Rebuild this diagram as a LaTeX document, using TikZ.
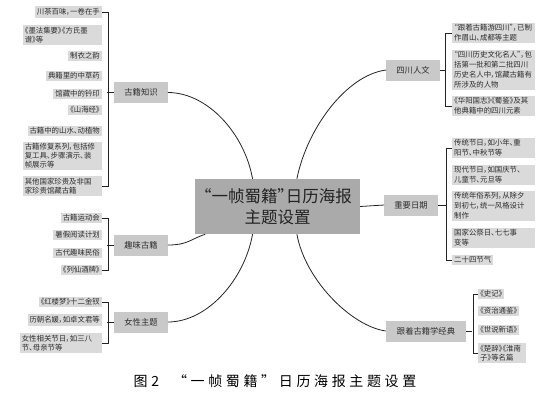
\documentclass[tikz,border=0pt]{standalone}
\usepackage{fontspec}
\setmainfont[RawFeature=+palt]{Noto Sans CJK SC}
\newfontfamily\capfont[LetterSpace=26]{Noto Sans CJK SC}
\usepackage{tikz}
\usetikzlibrary{positioning}
\definecolor{mydark}{RGB}{35,35,35}
\definecolor{myink}{RGB}{45,45,45}
\definecolor{leafgray}{RGB}{218,218,218}
\definecolor{hubgray}{RGB}{201,201,201}
\definecolor{maingray}{RGB}{170,170,170}
\tikzset{
  leaf/.style={rectangle, fill=leafgray, text=myink, inner sep=2pt,
    font=\fontsize{7.4}{9}\selectfont},
  wideleaf/.style={leaf, text width=75pt, align=left},
  rleaf/.style={leaf, text width=79pt, align=left,
    font=\fontsize{7.4}{10}\selectfont},
  hub/.style={rectangle, fill=hubgray, text=myink, inner xsep=10pt,
    minimum height=21pt, font=\fontsize{8.3}{10}\selectfont},
  mainbox/.style={rectangle, fill=maingray, text=mydark, align=center,
    minimum width=165pt, minimum height=55pt,
    font=\fontsize{16.5}{20.5}\selectfont},
  line/.style={line width=0.8pt, color=mydark},
  captext/.style={font=\capfont\fontsize{14}{16}\selectfont, text=black}
}

\begin{document}
\begin{tikzpicture}[x=1pt, y=-1pt]
  \useasboundingbox (0,0) rectangle (540,400);
  \node[mainbox] (main) at (277.5,206.5) {“一帧蜀籍”日历海报\\主题设置};

  % left: 古籍知识
  \node[hub] (gjzs) at (141,92.5) {古籍知识};
  \node[leaf, anchor=east] (zs1) at (102,12) {川茶百味，一卷在手};
  \node[wideleaf, anchor=east] (zs2) at (102,35) {《墨法集要》《方氏墨\\谱》等};
  \node[leaf, anchor=east] (zs3) at (102,56) {制衣之韵};
  \node[leaf, anchor=east] (zs4) at (102,76) {典籍里的中草药};
  \node[leaf, anchor=east] (zs5) at (102,94) {馆藏中的钤印};
  \node[leaf, anchor=east] (zs6) at (102,110) {《山海经》};
  \node[leaf, anchor=east] (zs7) at (102,131) {古籍中的山水、动植物};
  \node[wideleaf, anchor=east] (zs8) at (102,156) {古籍修复系列，包括修\\复工具、步骤演示、装\\帧展示等};
  \node[wideleaf, anchor=east] (zs9) at (102,186) {其他国家珍贵及非国\\家珍贵馆藏古籍};
  \draw[line] (zs1.east) -- ++(6,0) |- (zs9.east);
  \draw[line] (gjzs.west) -- ++(-7,0);

  % left: 趣味古籍
  \node[hub] (qwgj) at (141,245) {趣味古籍};
  \node[leaf, anchor=east] (qw1) at (102,218) {古籍运动会};
  \node[leaf, anchor=east] (qw2) at (102,235) {暑假阅读计划};
  \node[leaf, anchor=east] (qw3) at (102,253) {古代趣味民俗};
  \node[leaf, anchor=east] (qw4) at (102,270) {《列仙酒牌》};
  \draw[line] (qw1.east) -- ++(6,0) |- (qw4.east);
  \draw[line] (qwgj.west) -- ++(-7,0);

  % left: 女性主题
  \node[hub] (nxzt) at (141,322) {女性主题};
  \node[leaf, anchor=east] (nx1) at (102,302) {《红楼梦》十二金钗};
  \node[leaf, anchor=east] (nx2) at (102,320) {历朝名媛，如卓文君等};
  \node[wideleaf, text width=78pt, anchor=east] (nx3) at (102,343) {女性相关节日，如三八\\节、母亲节等};
  \draw[line] (nx1.east) -- ++(6,0) |- (nx3.east);
  \draw[line] (nxzt.west) -- ++(-7,0);

  % right: 四川人文
  \node[hub] (scrw) at (413,70) {四川人文};
  \node[rleaf, anchor=west] (sc1) at (452,33) {“跟着古籍游四川”，已制\\作眉山、成都等主题};
  \node[rleaf, anchor=west] (sc2) at (452,70) {“四川历史文化名人”，包\\括第一批和第二批四川\\历史名人中，馆藏古籍有\\所涉及的人物};
  \node[rleaf, anchor=west] (sc3) at (452,106) {《华阳国志》《蜀鉴》及其\\他典籍中的四川元素};
  \draw[line] (sc1.west) -- ++(-7,0) |- (sc3.west);
  \draw[line] (scrw.east) -- ++(5,0);

  % right: 重要日期
  \node[hub] (zyrq) at (411,205) {重要日期};
  \node[rleaf, anchor=west] (zy1) at (452,148) {传统节日，如小年、重\\阳节、中秋节等};
  \node[rleaf, anchor=west] (zy2) at (452,175) {现代节日，如国庆节、\\儿童节、元旦等};
  \node[rleaf, anchor=west] (zy3) at (452,206) {传统年俗系列，从除夕\\到初七，统一风格设计\\制作};
  \node[rleaf, anchor=west] (zy4) at (452,238) {国家公祭日、七七事\\变等};
  \node[leaf, anchor=west] (zy5) at (452,260) {二十四节气};
  \draw[line] (zy1.west) -- ++(-6,0) |- (zy5.west);
  \draw[line] (zyrq.east) -- ++(8,0);

  % right: 跟着古籍学经典
  \node[hub, inner xsep=11pt] (gjxj) at (426,331) {跟着古籍学经典};
  \node[leaf, anchor=west] (gj1) at (478,294) {《史记》};
  \node[leaf, anchor=west] (gj2) at (478,311) {《资治通鉴》};
  \node[leaf, anchor=west] (gj3) at (478,330) {《世说新语》};
  \node[wideleaf, text width=44pt, anchor=west] (gj4) at (478,353) {《楚辞》《淮南\\子》等名篇};
  \draw[line] (gj1.west) -- ++(-5,0) |- (gj4.west);
  \draw[line] (gjxj.east) -- ++(6,0);

  % centre to hubs
  \draw[line] (gjzs.east) .. controls +(40,0) and +(-8,-45) .. (main.132);
  \draw[line] (main.55) .. controls +(10,-50) and +(-40,5) .. (scrw.west);
  \draw[line] (main.east) -- (zyrq.west);
  \draw[line] (main.-55) .. controls +(8,45) and +(-35,-5) .. (gjxj.west);
  \draw[line] (main.-132) .. controls +(-8,45) and +(40,0) .. (nxzt.east);
  \draw[line] (main.201) .. controls +(-15,5) and +(20,0) .. (qwgj.east);

  \node[captext] (cap) at (275,381) {图2\quad “一帧蜀籍”日历海报主题设置};
\end{tikzpicture}
\end{document}
